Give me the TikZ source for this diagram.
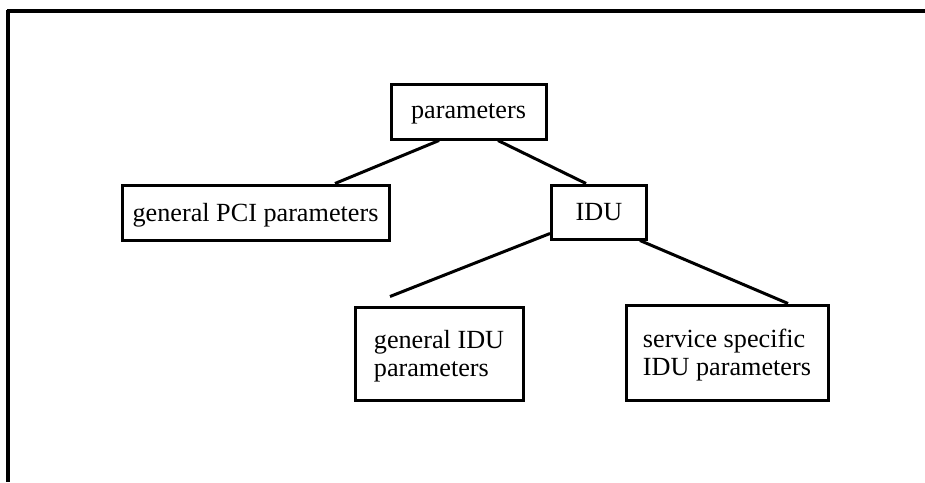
\documentclass[tikz,border=0pt]{standalone}
\usepackage{fontspec}
\setmainfont{Liberation Serif}
\usetikzlibrary{calc}
\tikzset{
	box/.style={draw, line width=1.5pt, inner sep=0pt, text depth=0pt, font=\fontsize{13.1}{14.2}\selectfont},
	link/.style={line width=1.5pt}
}

\begin{document}
\begin{tikzpicture}[x=0.5pt, y=-0.5pt]
		%%%%% START %%%%%
		\useasboundingbox (0, 0) rectangle (925, 482);
		
		\draw[line width=1.8pt] (7, 11) -- (925, 11);
		\draw[line width=1.8pt] (8, 10) -- (8, 482);
		
		\node[box, minimum width=77.5pt, minimum height=27.5pt] (par) at (468.5, 111.5) {parameters};
		\node[box, minimum width=133.5pt, minimum height=27.5pt] (pci) at (255.5, 212.5) {general PCI parameters};
		\node[box, minimum width=47.5pt, minimum height=27pt] (idu) at (599, 212) {IDU};
		\node[box, minimum width=84pt, minimum height=46.5pt, align=left] (gidu) at (439, 353.5) {general IDU\\parameters};
		\node[box, minimum width=101pt, minimum height=47.5pt, align=left] (svc) at (727, 352.5) {service specific\\IDU parameters};
		
		\coordinate (gend) at ($(gidu.north)+(-49, -9)$);
		
		\draw[link] ($(par.south)+(-29.5, 0)$) -- ($(pci.north)+(79.5, 0)$);
		\draw[link] ($(par.south)+(29.5, 0)$) -- ($(idu.north)+(-13, 0)$);
		\draw[link] ($(idu.south west)+(0, -7)$) -- (gend);
		\draw[link] ($(idu.south)+(41, 0)$) -- ($(svc.north)+(61, 0)$);
		
		%%%%% END %%%%%
	\end{tikzpicture}
\end{document}
